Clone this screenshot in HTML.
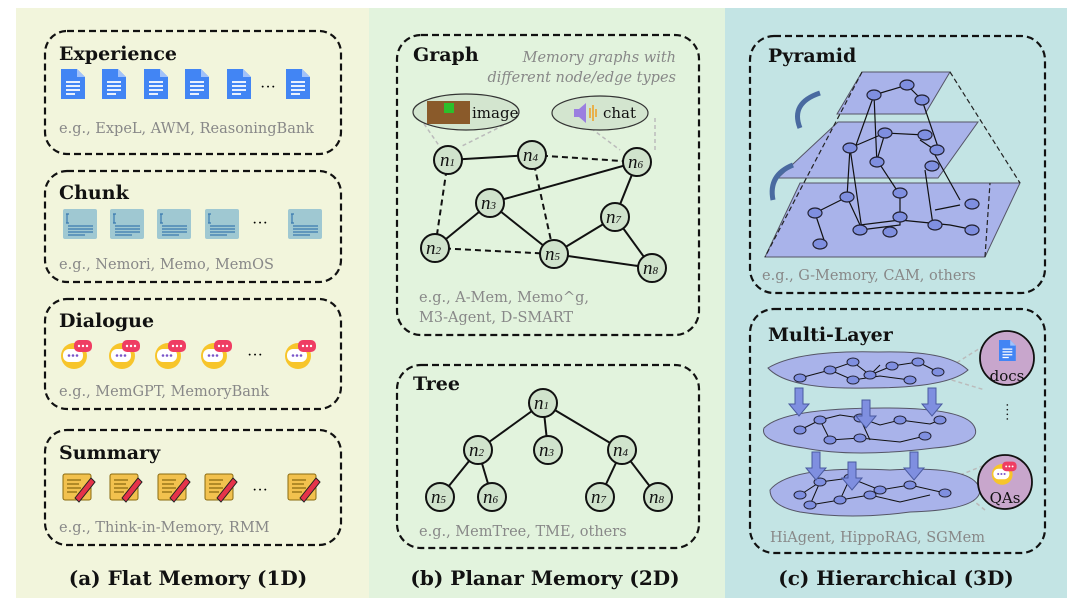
<!DOCTYPE html>
<html><head><meta charset="utf-8"><style>
body{margin:0;background:#fff}
svg{display:block}
.t{font-family:"DejaVu Serif",serif;font-weight:bold;fill:#111}
.g{font-family:"DejaVu Serif",serif;fill:#888;font-size:14.5px}
.b{fill:none;stroke:#111;stroke-width:2.2;stroke-dasharray:7 4}
.n{fill:#d0e3cc;stroke:#111;stroke-width:2}
.nt{font-family:"Liberation Serif",serif;font-style:italic;font-size:19px;fill:#111}
.s{font-size:11px}
.e{stroke:#111;stroke-width:2}
.d{stroke:#111;stroke-width:2;stroke-dasharray:6 4}
.pn{fill:#7f8fe0;stroke:#223;stroke-width:1.2}
</style></head><body>
<svg width="1080" height="614" viewBox="0 0 1080 614" xmlns="http://www.w3.org/2000/svg">
<defs>
<g id="doc"><path d="M0,0h16l8,8v22h-24z" fill="#4285f4"/><path d="M16,0v8h8z" fill="#a1c2fa"/><path d="M5,13h14M5,17h14M5,21h14M5,25h9" stroke="#fff" stroke-width="1.8"/></g>
<g id="chk"><rect width="34" height="30" rx="2" fill="#9fc8d2"/><path d="M4,5v9M3,5h3M3,14h3" stroke="#3a7ab0" stroke-width="1.2"/><path d="M5,17h25M5,20h25M5,23h25M5,26h17" stroke="#3a7ab0" stroke-width="1.2"/></g>
<g id="dlg"><circle cx="14" cy="18" r="13" fill="#f7c52b"/><rect x="3" y="11" width="20" height="13" rx="6" fill="#fff"/><circle cx="9" cy="17.5" r="1.3" fill="#7a55c9"/><circle cx="13" cy="17.5" r="1.3" fill="#7a55c9"/><circle cx="17" cy="17.5" r="1.3" fill="#7a55c9"/><rect x="14" y="2" width="18" height="12" rx="5" fill="#ef3d63"/><circle cx="19" cy="8" r="1.2" fill="#fff"/><circle cx="23" cy="8" r="1.2" fill="#fff"/><circle cx="27" cy="8" r="1.2" fill="#fff"/></g>
<g id="sum"><rect x="0" y="4" width="28" height="26" rx="2" fill="#f2c14e" stroke="#8a6a10" stroke-width="1"/><path d="M4,10h14M4,14h12M4,18h14M4,22h10" stroke="#8a6a10" stroke-width="1.2"/><path d="M12,28l16,-20l4,4l-16,20z" fill="#e5334a" stroke="#222" stroke-width="1"/></g>
</defs>
<rect x="16" y="8" width="353" height="590" fill="#f2f5dc"/>
<rect x="369" y="8" width="356" height="590" fill="#e2f3dd"/>
<rect x="725" y="8" width="342" height="590" fill="#c3e4e4"/>

<!-- (a) -->
<rect x="45" y="31" width="296" height="123" rx="22" fill="#f9fbeb" class="b"/>
<text x="59" y="60" class="t" font-size="19">Experience</text>
<use href="#doc" x="61" y="69"/><use href="#doc" x="102" y="69"/><use href="#doc" x="144" y="69"/><use href="#doc" x="185" y="69"/><use href="#doc" x="227" y="69"/>
<text x="260" y="92" font-size="16" font-family="Liberation Serif">···</text><use href="#doc" x="286" y="69"/>
<text x="59" y="133" class="g">e.g., ExpeL, AWM, ReasoningBank</text>

<rect x="45" y="171" width="296" height="111" rx="22" fill="#f9fbeb" class="b"/>
<text x="59" y="199" class="t" font-size="19">Chunk</text>
<use href="#chk" x="63" y="209"/><use href="#chk" x="110" y="209"/><use href="#chk" x="157" y="209"/><use href="#chk" x="205" y="209"/>
<text x="252" y="228" font-size="16" font-family="Liberation Serif">···</text><use href="#chk" x="288" y="209"/>
<text x="59" y="269" class="g">e.g., Nemori, Memo, MemOS</text>

<rect x="45" y="299" width="296" height="110" rx="22" fill="#f9fbeb" class="b"/>
<text x="59" y="327" class="t" font-size="19">Dialogue</text>
<use href="#dlg" x="60" y="338"/><use href="#dlg" x="108" y="338"/><use href="#dlg" x="154" y="338"/><use href="#dlg" x="200" y="338"/>
<text x="247" y="360" font-size="16" font-family="Liberation Serif">···</text><use href="#dlg" x="284" y="338"/>
<text x="59" y="396" class="g">e.g., MemGPT, MemoryBank</text>

<rect x="45" y="430" width="296" height="115" rx="22" fill="#f9fbeb" class="b"/>
<text x="59" y="459" class="t" font-size="19">Summary</text>
<use href="#sum" x="63" y="470"/><use href="#sum" x="110" y="470"/><use href="#sum" x="158" y="470"/><use href="#sum" x="205" y="470"/>
<text x="252" y="495" font-size="16" font-family="Liberation Serif">···</text><use href="#sum" x="288" y="470"/>
<text x="59" y="532" class="g">e.g., Think-in-Memory, RMM</text>
<text x="188" y="585" class="t" font-size="20" text-anchor="middle">(a) Flat Memory (1D)</text>

<!-- (b) Graph -->
<rect x="397" y="35" width="302" height="300" rx="24" fill="#eef8eb" class="b"/>
<text x="413" y="61" class="t" font-size="19">Graph</text>
<text x="676" y="62" class="g" font-style="italic" text-anchor="end" font-size="14">Memory graphs with</text>
<text x="676" y="82" class="g" font-style="italic" text-anchor="end" font-size="14">different node/edge types</text>
<path d="M420,118L440,147M510,122L460,147M580,120L620,150M655,118L655,150" stroke="#bbb" stroke-width="1.5" stroke-dasharray="4 3"/>
<ellipse cx="466" cy="112" rx="53" ry="18" fill="#d3e5cf" stroke="#333" stroke-width="1.2"/>
<rect x="427" y="101" width="43" height="23" fill="#8a5a2a"/><rect x="444" y="103" width="10" height="10" fill="#2bbf2b"/>
<text x="472" y="118" font-family="DejaVu Serif" font-size="15" fill="#111">image</text>
<ellipse cx="600" cy="113" rx="48" ry="17" fill="#d3e5cf" stroke="#333" stroke-width="1.2"/>
<path d="M574,109h5l7,-6v20l-7,-6h-5z" fill="#9b7fe0"/><path d="M590,108v10M593,105v16M596,109v8" stroke="#f0a020" stroke-width="1.5"/>
<text x="603" y="118" font-family="DejaVu Serif" font-size="15" fill="#111">chat</text>
<g>
<line x1="448" y1="160" x2="532" y2="155" class="e"/><line x1="532" y1="155" x2="637" y2="162" class="d"/>
<line x1="448" y1="160" x2="435" y2="248" class="d"/><line x1="532" y1="155" x2="554" y2="254" class="d"/>
<line x1="490" y1="203" x2="637" y2="162" class="e"/><line x1="490" y1="203" x2="435" y2="248" class="e"/>
<line x1="490" y1="203" x2="554" y2="254" class="e"/><line x1="435" y1="248" x2="554" y2="254" class="d"/>
<line x1="637" y1="162" x2="615" y2="217" class="e"/><line x1="615" y1="217" x2="554" y2="254" class="e"/>
<line x1="615" y1="217" x2="652" y2="268" class="e"/><line x1="554" y1="254" x2="652" y2="268" class="e"/>
</g>
<g>
<circle cx="448" cy="160" r="14" class="n"/><text x="440" y="166" class="nt">n<tspan class="s">1</tspan></text>
<circle cx="532" cy="155" r="14" class="n"/><text x="523" y="161" class="nt">n<tspan class="s">4</tspan></text>
<circle cx="637" cy="162" r="14" class="n"/><text x="628" y="168" class="nt">n<tspan class="s">6</tspan></text>
<circle cx="490" cy="203" r="14" class="n"/><text x="481" y="209" class="nt">n<tspan class="s">3</tspan></text>
<circle cx="615" cy="217" r="14" class="n"/><text x="606" y="223" class="nt">n<tspan class="s">7</tspan></text>
<circle cx="435" cy="248" r="14" class="n"/><text x="426" y="254" class="nt">n<tspan class="s">2</tspan></text>
<circle cx="554" cy="254" r="14" class="n"/><text x="545" y="260" class="nt">n<tspan class="s">5</tspan></text>
<circle cx="652" cy="268" r="14" class="n"/><text x="643" y="274" class="nt">n<tspan class="s">8</tspan></text>
</g>
<text x="419" y="302" class="g">e.g., A-Mem, Memo^g,</text>
<text x="419" y="322" class="g">M3-Agent, D-SMART</text>

<!-- Tree -->
<rect x="397" y="365" width="302" height="183" rx="24" fill="#eef8eb" class="b"/>
<text x="413" y="390" class="t" font-size="19">Tree</text>
<g>
<line x1="543" y1="403" x2="478" y2="450" class="e"/><line x1="543" y1="403" x2="548" y2="450" class="e"/><line x1="543" y1="403" x2="622" y2="450" class="e"/>
<line x1="478" y1="450" x2="440" y2="497" class="e"/><line x1="478" y1="450" x2="492" y2="497" class="e"/>
<line x1="622" y1="450" x2="600" y2="497" class="e"/><line x1="622" y1="450" x2="658" y2="497" class="e"/>
<circle cx="543" cy="403" r="14" class="n"/><text x="534" y="409" class="nt">n<tspan class="s">1</tspan></text>
<circle cx="478" cy="450" r="14" class="n"/><text x="469" y="456" class="nt">n<tspan class="s">2</tspan></text>
<circle cx="548" cy="450" r="14" class="n"/><text x="539" y="456" class="nt">n<tspan class="s">3</tspan></text>
<circle cx="622" cy="450" r="14" class="n"/><text x="613" y="456" class="nt">n<tspan class="s">4</tspan></text>
<circle cx="440" cy="497" r="14" class="n"/><text x="431" y="503" class="nt">n<tspan class="s">5</tspan></text>
<circle cx="492" cy="497" r="14" class="n"/><text x="483" y="503" class="nt">n<tspan class="s">6</tspan></text>
<circle cx="600" cy="497" r="14" class="n"/><text x="591" y="503" class="nt">n<tspan class="s">7</tspan></text>
<circle cx="658" cy="497" r="14" class="n"/><text x="649" y="503" class="nt">n<tspan class="s">8</tspan></text>
</g>
<text x="419" y="536" class="g">e.g., MemTree, TME, others</text>
<text x="545" y="585" class="t" font-size="20" text-anchor="middle">(b) Planar Memory (2D)</text>

<!-- (c) Pyramid -->
<rect x="750" y="36" width="295" height="257" rx="24" fill="#dff0ef" class="b"/>
<text x="768" y="62" class="t" font-size="19">Pyramid</text>
<path d="M862,72h88l-25,42h-88z" fill="#a9b3ea" stroke="#556" stroke-width="1"/>
<path d="M838,122h140l-40,56h-160z" fill="#a9b3ea" stroke="#556" stroke-width="1"/>
<path d="M800,183h220l-35,74h-220z" fill="#a9b3ea" stroke="#556" stroke-width="1"/>
<path d="M862,72L765,257M950,72L1020,183M985,257L990,183" stroke="#222" stroke-width="1.2" stroke-dasharray="5 3" fill="none"/>
<path d="M800,128q-10,-25 20,-35" stroke="#4a6aa0" stroke-width="5" fill="none"/>
<path d="M773,200q-5,-25 20,-35" stroke="#4a6aa0" stroke-width="5" fill="none"/>
<g stroke="#111" stroke-width="1.2" fill="none">
<path d="M874,95L907,85L922,100M874,95L855,148M874,95L877,165M922,100L939,150M850,148L885,133L877,160M885,133L925,135M920,140L935,150M850,148L847,197M850,148L862,230M877,160L900,195M925,170L933,225M935,155L960,200M847,197L815,213L825,243M847,197L860,225L900,220M900,195L900,225L860,230M900,220L950,225L975,230M960,205L935,210"/>
</g>
<g>
<ellipse cx="907" cy="85" rx="7" ry="5" class="pn"/><ellipse cx="874" cy="95" rx="7" ry="5" class="pn"/><ellipse cx="922" cy="100" rx="7" ry="5" class="pn"/>
<ellipse cx="885" cy="133" rx="7" ry="5" class="pn"/><ellipse cx="925" cy="135" rx="7" ry="5" class="pn"/><ellipse cx="850" cy="148" rx="7" ry="5" class="pn"/><ellipse cx="937" cy="150" rx="7" ry="5" class="pn"/><ellipse cx="877" cy="162" rx="7" ry="5" class="pn"/><ellipse cx="932" cy="166" rx="7" ry="5" class="pn"/>
<ellipse cx="847" cy="197" rx="7" ry="5" class="pn"/><ellipse cx="900" cy="193" rx="7" ry="5" class="pn"/><ellipse cx="972" cy="204" rx="7" ry="5" class="pn"/><ellipse cx="815" cy="213" rx="7" ry="5" class="pn"/><ellipse cx="900" cy="217" rx="7" ry="5" class="pn"/><ellipse cx="860" cy="230" rx="7" ry="5" class="pn"/><ellipse cx="890" cy="232" rx="7" ry="5" class="pn"/><ellipse cx="935" cy="225" rx="7" ry="5" class="pn"/><ellipse cx="972" cy="230" rx="7" ry="5" class="pn"/><ellipse cx="820" cy="244" rx="7" ry="5" class="pn"/>
</g>
<text x="762" y="280" class="g">e.g., G-Memory, CAM, others</text>

<!-- Multi-layer -->
<rect x="750" y="309" width="295" height="244" rx="24" fill="#dff0ef" class="b"/>
<text x="768" y="341" class="t" font-size="19">Multi-Layer</text>
<path d="M945,370L985,345M945,378L985,390M960,475L985,465M960,490L985,510" stroke="#bbb" stroke-width="1.5" stroke-dasharray="4 3"/>
<path d="M768,368q30,-18 110,-16q70,-2 90,18q-20,18 -100,18q-80,2 -100,-20z" fill="#a9b3ea" stroke="#556"/>
<path d="M764,428q20,-20 120,-20q80,0 90,18q10,18 -40,22q-80,10 -130,0q-45,-6 -40,-20z" fill="#a9b3ea" stroke="#556"/>
<path d="M770,490q20,-25 120,-20q85,-5 90,20q0,20 -70,22q-60,8 -110,0q-30,-6 -30,-22z" fill="#a9b3ea" stroke="#556"/>
<g stroke="#111" stroke-width="1" fill="none">
<path d="M800,378L830,370L853,362L870,375L892,366L918,362L938,372M830,370L853,380L880,376L910,380M870,375L880,365M800,430L820,420L840,415L860,418L880,425L900,420L930,424L940,420M820,420L830,440L860,438L900,442L925,436M860,418L870,440M800,495L820,482L850,478L880,490L910,485L945,493M820,482L810,505L840,500L870,495L900,502L930,495M850,478L840,500"/>
</g>
<g fill="#7f8fe0" stroke="#223" stroke-width="1">
<ellipse cx="800" cy="378" rx="6" ry="4"/><ellipse cx="830" cy="370" rx="6" ry="4"/><ellipse cx="853" cy="362" rx="6" ry="4"/><ellipse cx="870" cy="375" rx="6" ry="4"/><ellipse cx="892" cy="366" rx="6" ry="4"/><ellipse cx="918" cy="362" rx="6" ry="4"/><ellipse cx="938" cy="372" rx="6" ry="4"/><ellipse cx="853" cy="380" rx="6" ry="4"/><ellipse cx="910" cy="380" rx="6" ry="4"/>
<ellipse cx="800" cy="430" rx="6" ry="4"/><ellipse cx="820" cy="420" rx="6" ry="4"/><ellipse cx="860" cy="418" rx="6" ry="4"/><ellipse cx="900" cy="420" rx="6" ry="4"/><ellipse cx="940" cy="420" rx="6" ry="4"/><ellipse cx="830" cy="440" rx="6" ry="4"/><ellipse cx="860" cy="438" rx="6" ry="4"/><ellipse cx="925" cy="436" rx="6" ry="4"/>
<ellipse cx="800" cy="495" rx="6" ry="4"/><ellipse cx="820" cy="482" rx="6" ry="4"/><ellipse cx="850" cy="478" rx="6" ry="4"/><ellipse cx="880" cy="490" rx="6" ry="4"/><ellipse cx="910" cy="485" rx="6" ry="4"/><ellipse cx="945" cy="493" rx="6" ry="4"/><ellipse cx="810" cy="505" rx="6" ry="4"/><ellipse cx="840" cy="500" rx="6" ry="4"/><ellipse cx="870" cy="495" rx="6" ry="4"/>
</g>
<g fill="#7f8fe0" stroke="#4a5aa0" stroke-width="1">
<path d="M795,388h8v16h6l-10,12l-10,-12h6z"/><path d="M862,400h8v16h6l-10,12l-10,-12h6z"/><path d="M928,388h8v16h6l-10,12l-10,-12h6z"/>
<path d="M812,452h8v16h6l-10,12l-10,-12h6z"/><path d="M848,462h8v16h6l-10,12l-10,-12h6z"/><path d="M910,452h8v16h6l-10,12l-10,-12h6z"/>
</g>
<circle cx="1007" cy="358" r="27" fill="#c8a6cc" stroke="#111" stroke-width="1.8"/>
<use href="#doc" x="999" y="340" transform="translate(999,340) scale(0.7) translate(-999,-340)"/>
<text x="1007" y="381" font-family="DejaVu Serif" font-size="15" text-anchor="middle" fill="#111">docs</text>
<text x="1006" y="412" font-family="Liberation Serif" font-size="14" text-anchor="middle" fill="#111" writing-mode="tb">····</text>
<circle cx="1005" cy="482" r="27" fill="#c8a6cc" stroke="#111" stroke-width="1.8"/>
<use href="#dlg" x="991" y="460" transform="translate(991,460) scale(0.8) translate(-991,-460)"/>
<text x="1005" y="503" font-family="DejaVu Serif" font-size="15" text-anchor="middle" fill="#111">QAs</text>
<text x="770" y="542" class="g">HiAgent, HippoRAG, SGMem</text>
<text x="896" y="585" class="t" font-size="20" text-anchor="middle">(c) Hierarchical  (3D)</text>
</svg>
</body></html>
